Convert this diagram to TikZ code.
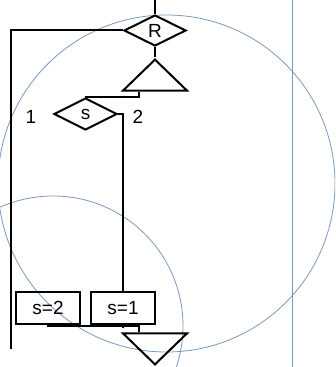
\documentclass[tikz,border=0pt]{standalone}
\usepackage{fontspec}
\setmainfont{Liberation Sans}
\usetikzlibrary{positioning, calc, shapes.geometric}
\definecolor{guideblue}{RGB}{122,152,192}

\begin{document}
\begin{tikzpicture}[x=1pt,y=1pt,line width=2pt,
        dec node/.style={diamond,draw,inner sep=0pt,minimum width=62pt,minimum height=31pt,font=\fontsize{19}{21}\selectfont},
        box node/.style={rectangle,draw,inner sep=0pt,minimum width=64pt,minimum height=32pt,font=\fontsize{19}{21}\selectfont},
        tri node/.style={isosceles triangle,isosceles triangle stretches,draw,inner sep=0pt,minimum width=64pt,minimum height=31pt},
        num node/.style={inner sep=0pt,font=\fontsize{19}{21}\selectfont},
        guide/.style={draw=guideblue,line width=0.8pt}]
    \useasboundingbox (0,0) rectangle (335,367);
    \begin{scope}
      \clip (0,0) rectangle (335,367);
      \draw[guide] (166.5,183.5) circle (168.5);
      \draw[guide] (53,41) circle (130);
      \draw[guide] (292,0) -- (292,367);
    \end{scope}
    \coordinate (in) at (155,367);
    \coordinate (out) at (11,18);
    \node[dec node] (r) at (155,336.5) {R};
    \node[tri node, shape border rotate=90, anchor=apex] (t1) at (155,310) {};
    \node[dec node, minimum width=63pt, minimum height=32pt] (s) at (85.5,253) {s};
    \node[num node] (n1) at (31,250) {1};
    \node[num node] (n2) at (138,250) {2};
    \node[box node] (b1) at (123,59) {s=1};
    \node[box node] (b2) [left=9pt of b1] {s=2};
    \node[tri node, shape border rotate=270, anchor=apex] (t2) at (155,0) {};
  \path[draw]
      (in) -- (r.north)
      (r.west) -| (out)
      (r.south) -- (t1.apex)
      ($(t1.lower side)+(-16,0)$) -- ++(0,-5) -| (s.north)
      (s.east) -| (b1.north)
      (b2.south) |- ($(t2.lower side)+(-16,6)$) -- ($(t2.lower side)+(-16,0)$)
      (b1.south) -- ++(0,-3);
  \end{tikzpicture}
\end{document}
